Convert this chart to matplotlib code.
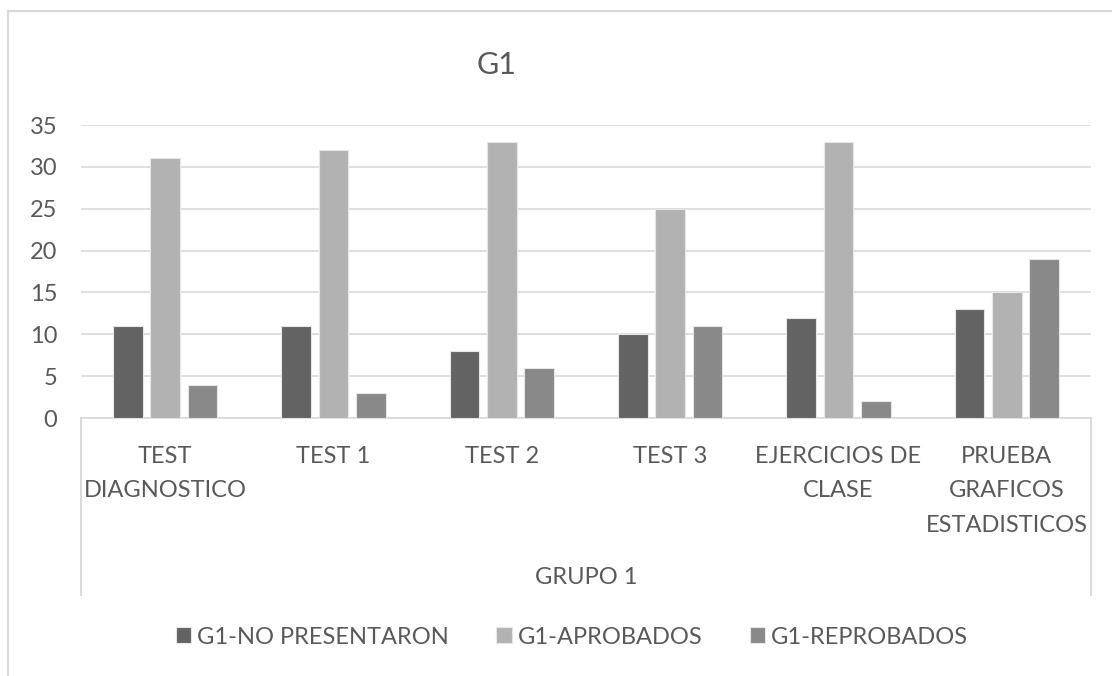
import numpy as np
import matplotlib
matplotlib.use('Agg')
import matplotlib.pyplot as plt
from matplotlib.lines import Line2D
from matplotlib.patches import Patch

plt.rcParams['font.family'] = ['Lato', 'DejaVu Sans']

categorias = ['TEST\nDIAGNOSTICO', 'TEST 1', 'TEST 2', 'TEST 3',
              'EJERCICIOS DE\nCLASE', 'PRUEBA\nGRAFICOS\nESTADISTICOS']
grupo = 'GRUPO 1'
series = ['G1-NO PRESENTARON', 'G1-APROBADOS', 'G1-REPROBADOS']
no_presentaron = [11, 11, 8, 10, 12, 13]
aprobados = [31, 32, 33, 25, 33, 15]
reprobados = [4, 3, 6, 11, 2, 19]
colores = ['#636363', '#b2b2b2', '#898989']

W, H = 1112, 676
fig = plt.figure(figsize=(W / 100, H / 100), dpi=100)
ax = fig.add_axes([81 / W, 1 - 418 / H, (1091 - 81) / W, (418 - 125) / H])

texto = '#595959'
gris = '#d9d9d9'

x = np.arange(len(categorias))
paso = 0.222
ancho = 0.176
for k, (vals, col) in enumerate(zip([no_presentaron, aprobados, reprobados], colores)):
    ax.bar(x + (k - 1) * paso, vals, ancho, color=col, edgecolor='#e6e6e6',
           linewidth=0.8, zorder=3)

ax.set_xlim(-0.5, len(categorias) - 0.5)
ax.set_ylim(0, 35)
ax.set_yticks(range(0, 36, 5))
ax.yaxis.grid(True, color=gris, linewidth=1.2, zorder=0)
for s in ['top', 'right', 'left']:
    ax.spines[s].set_visible(False)
ax.spines['bottom'].set_color(gris)
ax.spines['bottom'].set_linewidth(1.2)

ax.set_xticks(x)
ax.set_xticklabels(categorias, linespacing=1.8, va='top', ha='center',
                   multialignment='center')
ax.tick_params(axis='x', length=0, pad=20, labelsize=17, labelcolor=texto)
ax.tick_params(axis='y', length=0, pad=17, labelsize=17, labelcolor=texto)

# caja del eje de categorias de varios niveles
for xa in [0, 1]:
    ax.plot([xa, xa], [0, -177 / 293], transform=ax.transAxes, color=gris,
            linewidth=1.4, clip_on=False)
ax.text(0.5, -159 / 293, grupo, transform=ax.transAxes, ha='center', va='center',
        fontsize=17, color=texto)

fig.text(497 / W, 1 - 65 / H, 'G1', ha='center', va='center', fontsize=22, color=texto)

handles = [Patch(facecolor=c, edgecolor='#e6e6e6', linewidth=0.8) for c in colores]
fig.legend(handles, series, loc='center', bbox_to_anchor=(572 / W, 1 - 637 / H),
           ncol=3, frameon=False, fontsize=17, labelcolor=texto,
           handlelength=0.65, handleheight=0.65, handletextpad=0.25,
           columnspacing=2.0)

# borde exterior del grafico
fig.add_artist(Line2D([8 / W, 8 / W], [0, 1 - 11 / H], color=gris, linewidth=1.6))
fig.add_artist(Line2D([8 / W, 1], [1 - 11 / H, 1 - 11 / H], color=gris, linewidth=1.6))

fig.savefig('out.png', dpi=100)
